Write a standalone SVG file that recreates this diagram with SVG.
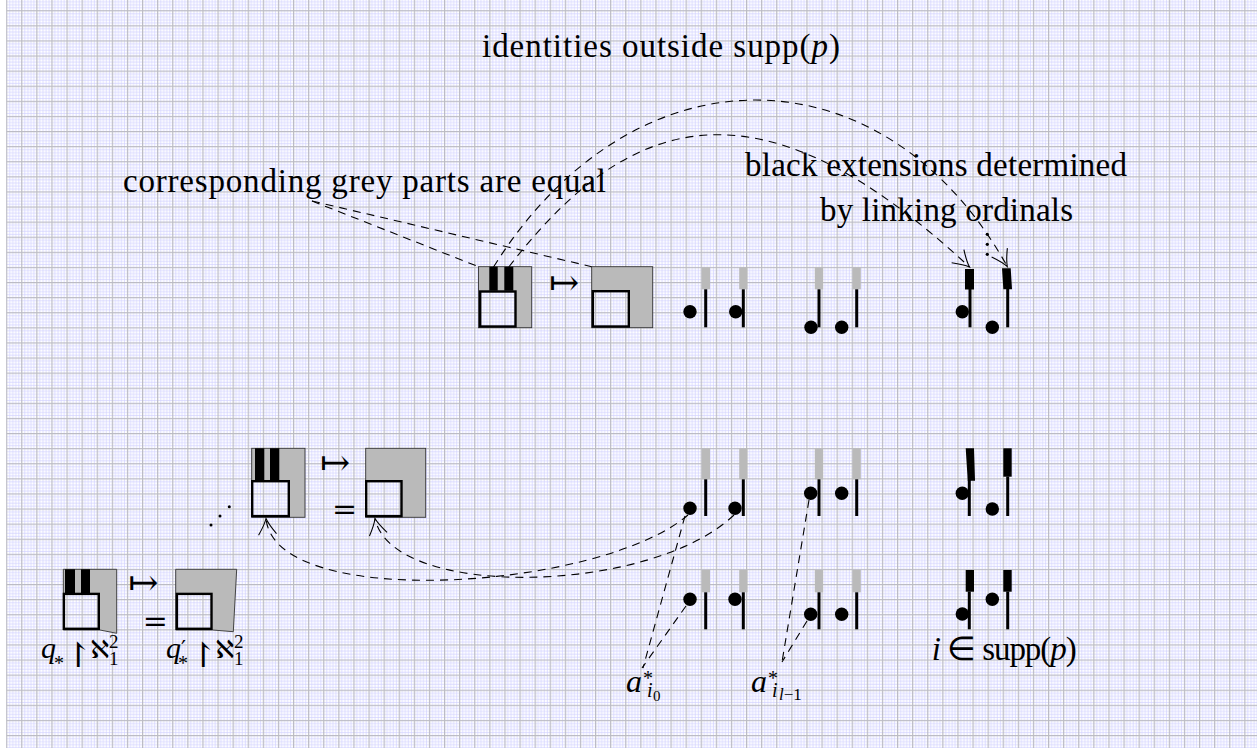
<svg xmlns="http://www.w3.org/2000/svg" width="1257" height="748" viewBox="0 0 1257 748">
<defs>
<pattern id="grid" patternUnits="userSpaceOnUse" x="6.1" y="10.2" width="15.1" height="15.1">
<path d="M3.62,0V15.1M6.64,0V15.1M9.66,0V15.1M12.68,0V15.1M0,3.62H15.1M0,6.64H15.1M0,9.66H15.1M0,12.68H15.1" stroke="#d0d0ff" stroke-width="0.7" fill="none"/>
<path d="M0.6,0V15.1M0,0.6H15.1" stroke="#bbbbc4" stroke-width="1.2" fill="none"/>
</pattern>
<marker id="to" markerUnits="userSpaceOnUse" markerWidth="40" markerHeight="40" viewBox="-20 -20 40 40" refX="0" refY="0" orient="auto" overflow="visible">
<path d="M-16,-9 Q-6,-2 0,0 Q-6,2 -16,9" fill="none" stroke="#000" stroke-width="1.1" stroke-dasharray="none"/>
</marker>
<style>
.txt{font-family:"Liberation Serif",serif;font-size:33px;fill:#000}
.mi{font-family:"Liberation Serif",serif;font-style:italic;fill:#000}
.rm{font-family:"Liberation Serif",serif;fill:#000}
.sym{font-family:"DejaVu Serif","DejaVu Sans",serif;fill:#000}
.dash{fill:none;stroke:#000;stroke-width:1.1;stroke-dasharray:8 6}
.gfill{fill:#bababa;fill-rule:evenodd}
.gedge{fill:none;stroke:#333;stroke-width:0.9}
.sq{fill:none;stroke:#000;stroke-width:2.4}
.bbar{fill:#000}
.gbar{fill:#bababa}
.stem{stroke:#000;stroke-width:3}
.dot{fill:#000}
</style>
</defs>
<rect width="1257" height="748" fill="#fff"/>
<rect x="6.1" y="0" width="1251" height="748" fill="url(#grid)"/>

<g id="title"><text class="txt" x="482" y="57" textLength="358" lengthAdjust="spacing">identities outside supp(<tspan font-style="italic">p</tspan>)</text></g>
<g id="label-grey"><text class="txt" x="123" y="192" textLength="483" lengthAdjust="spacing">corresponding grey parts are equal</text></g>
<g id="label-black"><text class="txt" x="745" y="176" textLength="382" lengthAdjust="spacing">black extensions determined</text>
<text class="txt" x="820" y="221" textLength="253" lengthAdjust="spacing">by linking ordinals</text></g>

<!-- Row 1 -->
<g id="box-a">
<path class="gfill" d="M478.5,266.7H531.7V327.7H478.5Z M480.2,291.5V326.5H515.5V291.5Z"/>
<rect class="gedge" x="478.5" y="266.7" width="53.2" height="61"/>
<rect class="bbar" x="489.3" y="266.7" width="8.4" height="24"/>
<rect class="bbar" x="504.3" y="266.7" width="9" height="24"/>
<rect class="sq" x="480.2" y="291.5" width="35.3" height="35"/>
</g>
<g id="mapsto-1"><text class="sym" x="564" y="295" font-size="36" text-anchor="middle">↦</text></g>
<g id="box-b">
<path class="gfill" d="M591.7,266.7H652.7V327.7H591.7Z M592.9,291.2V326.5H628.8V291.2Z"/>
<rect class="gedge" x="591.7" y="266.7" width="61" height="61"/>
<rect class="sq" x="592.9" y="291.2" width="35.9" height="35.3"/>
</g>
<g id="r1-n1"><rect class="gbar" x="701.7" y="267.3" width="8.3" height="22"/><line class="stem" x1="705.7" y1="289.3" x2="705.7" y2="327.3"/><circle class="dot" cx="690" cy="311.7" r="6.7"/></g>
<g id="r1-n2"><rect class="gbar" x="739.2" y="267.3" width="8.3" height="22"/><line class="stem" x1="743.3" y1="289.3" x2="743.3" y2="327.3"/><circle class="dot" cx="735.7" cy="311.7" r="6.7"/></g>
<g id="r1-n3"><rect class="gbar" x="814.8" y="267.3" width="8.3" height="22"/><line class="stem" x1="819" y1="289.3" x2="819" y2="327.3"/><circle class="dot" cx="811" cy="327.3" r="6.7"/></g>
<g id="r1-n4"><rect class="gbar" x="852.5" y="267.3" width="8.3" height="22"/><line class="stem" x1="856.7" y1="289.3" x2="856.7" y2="327.3"/><circle class="dot" cx="841.7" cy="327.3" r="6.7"/></g>
<g id="r1-b1"><rect class="bbar" x="965" y="269" width="9" height="20.5"/><line class="stem" x1="970" y1="289" x2="970" y2="327.3"/><circle class="dot" cx="962.3" cy="311.7" r="6.7"/></g>
<g id="r1-b2"><polygon class="bbar" points="1002,268.3 1010.7,268.3 1012,289.3 1003.3,289.3"/><line class="stem" x1="1007.7" y1="289" x2="1007.7" y2="327.3"/><circle class="dot" cx="992.3" cy="327.3" r="6.7"/></g>
<g id="vdots"><circle class="dot" cx="987.3" cy="234.3" r="1.6"/><circle class="dot" cx="987.3" cy="244.3" r="1.6"/><circle class="dot" cx="987.3" cy="254.3" r="1.6"/></g>

<!-- Row 2 -->
<g id="ddots"><circle class="dot" cx="211" cy="525" r="1.5"/><circle class="dot" cx="220" cy="516" r="1.5"/><circle class="dot" cx="229.3" cy="506.7" r="1.5"/></g>
<g id="box-c">
<path class="gfill" d="M251.7,448.3H305V517.3H251.7Z M252.2,481.2V516.1H288.8V481.2Z"/>
<rect class="gedge" x="251.7" y="448.3" width="53.3" height="69"/>
<rect class="bbar" x="255" y="448.3" width="9.3" height="32"/>
<rect class="bbar" x="270" y="448.3" width="9.3" height="32"/>
<rect class="sq" x="252.2" y="481.2" width="36.6" height="34.9"/>
</g>
<g id="mapsto-2"><text class="sym" x="335" y="475" font-size="36" text-anchor="middle">↦</text></g>
<g id="eq-2"><text class="sym" x="344.5" y="518.6" font-size="30" text-anchor="middle">=</text></g>
<g id="box-d">
<path class="gfill" d="M365.7,448.3H425.7V517.3H365.7Z M366.2,481.2V516.1H401.5V481.2Z"/>
<rect class="gedge" x="365.7" y="448.3" width="60" height="69"/>
<rect class="sq" x="366.2" y="481.2" width="35.3" height="34.9"/>
</g>
<g id="r2-n1"><rect class="gbar" x="701.7" y="448.3" width="8.3" height="31"/><line class="stem" x1="705.7" y1="479.3" x2="705.7" y2="516"/><circle class="dot" cx="690" cy="508.3" r="6.7"/></g>
<g id="r2-n2"><rect class="gbar" x="739.2" y="448.3" width="8.3" height="31"/><line class="stem" x1="743.3" y1="479.3" x2="743.3" y2="516"/><circle class="dot" cx="735" cy="508.3" r="6.7"/></g>
<g id="r2-n3"><rect class="gbar" x="814.8" y="448.3" width="8.3" height="31"/><line class="stem" x1="819" y1="479.3" x2="819" y2="516"/><circle class="dot" cx="810.7" cy="493.3" r="6.7"/></g>
<g id="r2-n4"><rect class="gbar" x="852.5" y="448.3" width="8.3" height="31"/><line class="stem" x1="856.7" y1="479.3" x2="856.7" y2="516"/><circle class="dot" cx="841.7" cy="493.3" r="6.7"/></g>
<g id="r2-b1"><polygon class="bbar" points="965.7,448.3 974,448.3 975,480.7 967.7,480.7"/><line class="stem" x1="969.3" y1="480" x2="969.3" y2="516"/><circle class="dot" cx="962.3" cy="493.3" r="6.7"/></g>
<g id="r2-b2"><rect class="bbar" x="1003.3" y="448.3" width="8.4" height="28.4"/><line class="stem" x1="1007.7" y1="476.5" x2="1007.7" y2="516"/><circle class="dot" cx="992.3" cy="509" r="6.7"/></g>

<!-- Row 3 -->
<g id="box-e">
<path class="gfill" d="M63.3,569.3H116.7V633.3L100,630H63.3Z M63.9,593.9V628.8H98.8V593.9Z"/>
<path class="gedge" d="M63.3,569.3H116.7V633.3L100,630H63.3Z"/>
<rect class="bbar" x="65" y="569.3" width="10" height="24"/>
<rect class="bbar" x="81" y="569.3" width="9" height="24"/>
<rect class="sq" x="63.9" y="593.9" width="34.9" height="34.9"/>
</g>
<g id="mapsto-3"><text class="sym" x="143.3" y="595" font-size="36" text-anchor="middle">↦</text></g>
<g id="eq-3"><text class="sym" x="155.3" y="631" font-size="30" text-anchor="middle">=</text></g>
<g id="box-f">
<path class="gfill" d="M175.7,569.3H236.7L233.3,631.7L212.7,630H175.7Z M176.9,593.9V628.8H211.5V593.9Z"/>
<path class="gedge" d="M175.7,569.3H236.7L233.3,631.7L212.7,630H175.7Z"/>
<rect class="sq" x="176.9" y="593.9" width="34.6" height="34.9"/>
</g>
<g id="r3-n1"><rect class="gbar" x="701.7" y="570" width="8.3" height="22.3"/><line class="stem" x1="705.7" y1="592.3" x2="705.7" y2="629.3"/><circle class="dot" cx="690" cy="599.3" r="6.7"/></g>
<g id="r3-n2"><rect class="gbar" x="739.2" y="570" width="8.3" height="22.3"/><line class="stem" x1="743.3" y1="592.3" x2="743.3" y2="629.3"/><circle class="dot" cx="735" cy="599.3" r="6.7"/></g>
<g id="r3-n3"><rect class="gbar" x="814.8" y="570" width="8.3" height="22.3"/><line class="stem" x1="819" y1="592.3" x2="819" y2="629.3"/><circle class="dot" cx="810.7" cy="614.3" r="6.7"/></g>
<g id="r3-n4"><rect class="gbar" x="852.5" y="570" width="8.3" height="22.3"/><line class="stem" x1="856.7" y1="592.3" x2="856.7" y2="629.3"/><circle class="dot" cx="841.7" cy="614.3" r="6.7"/></g>
<g id="r3-b1"><rect class="bbar" x="965.7" y="570" width="8.3" height="21.7"/><line class="stem" x1="969.3" y1="591.5" x2="969.3" y2="629.3"/><circle class="dot" cx="962.3" cy="614" r="6.7"/></g>
<g id="r3-b2"><rect class="bbar" x="1003.3" y="570" width="8.4" height="21.7"/><line class="stem" x1="1007.7" y1="591.5" x2="1007.7" y2="629.3"/><circle class="dot" cx="992.3" cy="599.3" r="6.7"/></g>

<!-- labels -->
<g id="label-q"><text class="rm" font-size="30"><tspan class="mi" x="41" y="658">q</tspan><tspan x="54" y="669.5" font-size="20">*</tspan><tspan class="sym" x="64" y="667" font-size="34">↾</tspan><tspan class="sym" x="90.5" y="658" font-size="25">ℵ</tspan><tspan x="109" y="648" font-size="19">2</tspan><tspan x="109" y="665" font-size="19">1</tspan></text></g>
<g id="label-q2"><text class="rm" font-size="30"><tspan class="mi" x="166" y="658">q</tspan><tspan class="sym" x="181" y="656" font-size="22">′</tspan><tspan x="178" y="669.5" font-size="20">*</tspan><tspan class="sym" x="189" y="667" font-size="34">↾</tspan><tspan class="sym" x="215.5" y="658" font-size="25">ℵ</tspan><tspan x="234" y="648" font-size="19">2</tspan><tspan x="234" y="665" font-size="19">1</tspan></text></g>
<g id="label-supp"><text class="txt" x="931.7" y="660" textLength="145" lengthAdjust="spacing" font-size="31"><tspan font-style="italic">i</tspan> ∈ supp(<tspan font-style="italic">p</tspan>)</text></g>
<g id="label-ai0"><text class="rm"><tspan class="mi" x="626" y="691.7" font-size="32">a</tspan><tspan x="643" y="685" font-size="20">*</tspan><tspan class="mi" x="647" y="697" font-size="20">i</tspan><tspan x="653" y="701" font-size="15">0</tspan></text></g>
<g id="label-ail"><text class="rm"><tspan class="mi" x="751" y="691.7" font-size="32">a</tspan><tspan x="768" y="685" font-size="20">*</tspan><tspan class="mi" x="772" y="697" font-size="20">i</tspan><tspan x="779" y="700" font-size="17"><tspan font-style="italic">l</tspan>−1</tspan></text></g>

<g id="connectors" class="dash">
<path d="M312,201 L478.5,266.7"/>
<path d="M312,201 L591.7,266.7"/>
<path d="M493.5,267 C636,40 886,49 1007.3,266.5" marker-end="url(#to)"/>
<path d="M508.8,267 C632,107 763,75 969.5,267" marker-end="url(#to)"/>
<path d="M688,515 C600,590 275,612 266,518.5" marker-end="url(#to)"/>
<path d="M734,515 C650,595 392,600 375,518.5" marker-end="url(#to)"/>
<path d="M685,516 L643,668"/>
<path d="M686,606 L642,668"/>
<path d="M809,500 L782,662"/>
<path d="M807,621 L782,662"/>
</g>
</svg>
